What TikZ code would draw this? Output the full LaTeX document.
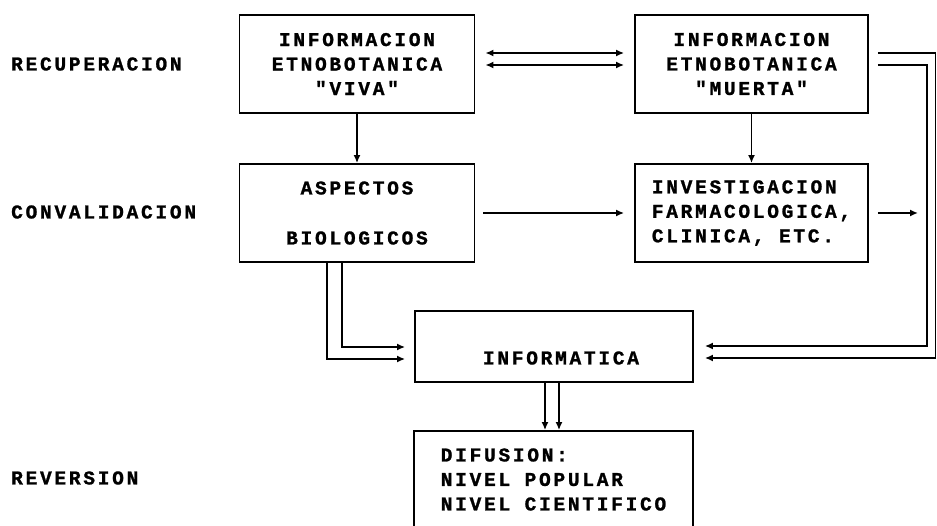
\documentclass[tikz,border=0pt]{standalone}
\usepackage{fontspec}
\newfontfamily\pf[LetterSpace=14,BoldFont={Liberation Mono Bold},BoldFeatures={FakeBold=1.2}]{Liberation Mono}
\usetikzlibrary{arrows.meta,calc}
\begin{document}
\begin{tikzpicture}[x=1pt,y=-1pt]
\tikzset{
 txt/.style={font=\pf\bfseries\fontsize{19.5}{24.5}\selectfont,inner sep=0pt},
 box/.style={txt,draw,line width=1.8pt},
 conn/.style={line width=1.6pt},
 arr/.style={conn,-{Latex[length=8pt,width=7pt]}},
 darr/.style={conn,{Latex[length=8pt,width=7pt]}-{Latex[length=8pt,width=7pt]}},
}
\useasboundingbox (0,0) rectangle (937,526);

% left labels
\node[txt,anchor=west] (l1) at (11,64) {RECUPERACION};
\node[txt,anchor=west] (l2) at (11,212) {CONVALIDACION};
\node[txt,anchor=west] (l3) at (11,478) {REVERSION};

% boxes
\node[box,minimum width=235pt,minimum height=98pt,align=center] (viva) at (357,64) {INFORMACION\\ETNOBOTANICA\\"VIVA"};
\node[box,minimum width=233pt,minimum height=98pt,align=center] (muerta) at (751.5,64) {INFORMACION\\ETNOBOTANICA\\"MUERTA"};
\node[box,minimum width=235pt,minimum height=98pt,align=center] (asp) at (357,213) {ASPECTOS\\[25.5pt]BIOLOGICOS};
\node[box,minimum width=233pt,minimum height=98pt,align=left] (inv) at (751.5,213) {INVESTIGACION\\FARMACOLOGICA,\\CLINICA, ETC.};
\node[box,minimum width=278pt,minimum height=71pt] (infm) at (554,346.5) {};
\node[txt] (infmtxt) at (561,358) {INFORMATICA};
\node[box,minimum width=279pt,minimum height=97pt,align=left] (dif) at (553.5,479.5) {DIFUSION:\\NIVEL POPULAR\\NIVEL CIENTIFICO};

% connectors
\draw[darr] ([xshift=10pt,yshift=11pt]viva.east) -- ([xshift=-10pt,yshift=11pt]muerta.west);
\draw[darr] ([xshift=10pt,yshift=-1pt]viva.east) -- ([xshift=-10pt,yshift=-1pt]muerta.west);
\draw[arr] (viva.south) -- (asp.north);
\draw[arr] (muerta.south) -- (inv.north);
\draw[arr] ([xshift=8pt]asp.east) -- ([xshift=-10pt]inv.west);
\coordinate (invout) at (918,213);
\draw[arr] ([xshift=9pt]inv.east) -- (invout);

\coordinate (outer) at (935.5,0);
\coordinate (inner) at (927,0);
\coordinate (inA) at ([xshift=11pt,yshift=0.5pt]infm.east);
\coordinate (inB) at ([xshift=11pt,yshift=-11.5pt]infm.east);
\draw[arr] ([xshift=9pt,yshift=-1pt]muerta.east) -| (inner |- inA) -- (inA);
\draw[arr] ([xshift=9pt,yshift=11pt]muerta.east) -| (outer |- inB) -- (inB);

\coordinate (asA) at ([xshift=-9pt,yshift=-0.5pt]infm.west);
\coordinate (asB) at ([xshift=-9pt,yshift=-12.5pt]infm.west);
\draw[arr] ([xshift=-15pt]asp.south) |- (asA);
\draw[arr] ([xshift=-30pt]asp.south) |- (asB);

\coordinate (d1) at ([xshift=-9pt]infm.south);
\coordinate (d2) at ([xshift=5pt]infm.south);
\draw[arr] (d1) -- (d1 |- dif.north);
\draw[arr] (d2) -- (d2 |- dif.north);
\end{tikzpicture}
\end{document}
